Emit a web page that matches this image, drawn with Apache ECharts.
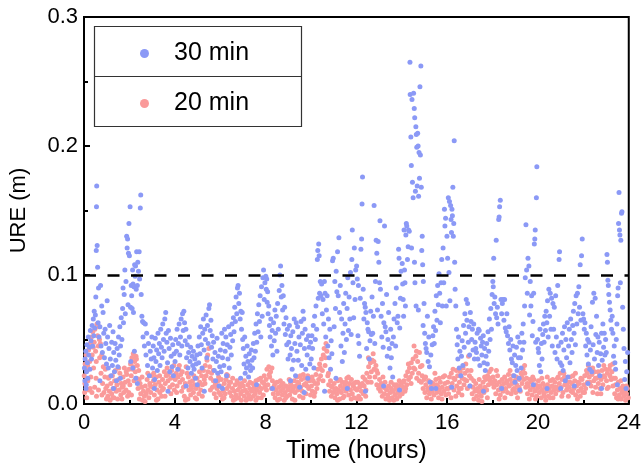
<!DOCTYPE html>
<html>
<head>
<meta charset="utf-8">
<script src="https://cdn.jsdelivr.net/npm/echarts@6/dist/echarts.min.js"></script>
<style>
  html, body { margin: 0; padding: 0; background: #fff; }
  #chart { width: 644px; height: 469px; }
</style>
</head>
<body>
<div id="chart"></div>
<script>
// User range error samples over one day: [time (hours), URE (m)]
const ure30min = [
  [0.02,0.028],[0.04,0.018],[0.05,0.035],[0.08,0.041],[0.09,0.012],[0.11,0.025],[0.13,0.046],[0.15,0.032],[0.17,0.02],[0.19,0.052],[0.21,0.038],[0.24,0.044],[0.26,0.027],[0.28,0.057],[0.31,0.049],[0.33,0.035],[0.36,0.061],[0.38,0.045],[0.41,0.066],[0.43,0.053],[0.45,0.072],[0.47,0.059],[0.5,0.069],[0.52,0.083],[0.54,0.119],[0.55,0.153],[0.56,0.169],[0.58,0.123],[0.6,0.106],[0.62,0.063],[0.64,0.09],[0.66,0.052],[0.7,0.06],[0.73,0.092],[0.75,0.045],[0.78,0.076],[0.81,0.04],[0.84,0.071],[0.87,0.055],[0.9,0.036],[0.93,0.058],[0.96,0.047],[0.99,0.031],
  [1.02,0.08],[1.04,0.052],[1.07,0.028],[1.1,0.043],[1.13,0.061],[1.16,0.035],[1.19,0.022],[1.22,0.048],[1.25,0.03],[1.28,0.056],[1.31,0.04],[1.34,0.025],[1.37,0.047],[1.4,0.034],[1.43,0.018],[1.46,0.043],[1.49,0.029],[1.52,0.052],[1.55,0.038],[1.58,0.06],[1.61,0.045],[1.64,0.067],[1.67,0.05],[1.7,0.074],[1.72,0.09],[1.74,0.063],[1.77,0.085],[1.8,0.104],[1.82,0.07],[1.85,0.095],[1.88,0.13],[1.9,0.121],[1.92,0.128],[1.94,0.077],[1.96,0.117],[1.98,0.14],
  [2.0,0.115],[2.03,0.153],[2.05,0.075],[2.06,0.033],[2.08,0.092],[2.1,0.084],[2.12,0.074],[2.14,0.104],[2.15,0.028],[2.16,0.093],[2.18,0.071],[2.2,0.091],[2.22,0.041],[2.23,0.108],[2.25,0.099],[2.27,0.107],[2.28,0.02],[2.3,0.089],[2.32,0.118],[2.35,0.092],[2.37,0.11],[2.4,0.103],[2.43,0.118],[2.45,0.097],[2.48,0.152],[2.5,0.162],[2.52,0.085],[2.55,0.068],[2.58,0.064],[2.6,0.052],[2.63,0.063],[2.66,0.045],[2.7,0.062],[2.73,0.038],[2.76,0.055],[2.8,0.03],[2.84,0.047],[2.88,0.022],[2.92,0.041],[2.96,0.035],[2.99,0.052],
  [3.02,0.028],[3.05,0.045],[3.08,0.036],[3.11,0.019],[3.14,0.051],[3.17,0.033],[3.2,0.042],[3.23,0.026],[3.26,0.055],[3.29,0.039],[3.32,0.047],[3.35,0.03],[3.38,0.058],[3.41,0.044],[3.44,0.036],[3.47,0.062],[3.5,0.05],[3.53,0.041],[3.56,0.066],[3.6,0.071],[3.62,0.055],[3.65,0.048],[3.68,0.032],[3.72,0.057],[3.75,0.043],[3.78,0.025],[3.81,0.051],[3.84,0.037],[3.88,0.029],[3.91,0.046],[3.94,0.022],[3.97,0.039],
  [4.01,0.033],[4.04,0.05],[4.07,0.041],[4.1,0.058],[4.13,0.027],[4.16,0.047],[4.19,0.062],[4.22,0.038],[4.25,0.052],[4.28,0.066],[4.31,0.045],[4.34,0.07],[4.37,0.057],[4.4,0.072],[4.43,0.063],[4.46,0.049],[4.49,0.058],[4.52,0.036],[4.55,0.046],[4.58,0.028],[4.61,0.04],[4.64,0.052],[4.67,0.033],[4.7,0.044],[4.73,0.024],[4.76,0.037],[4.79,0.03],[4.82,0.041],[4.85,0.027],[4.88,0.035],[4.91,0.02],[4.94,0.031],[4.97,0.038],[4.99,0.015],
  [5.02,0.045],[5.05,0.032],[5.08,0.052],[5.11,0.039],[5.14,0.06],[5.17,0.046],[5.2,0.028],[5.23,0.055],[5.26,0.066],[5.29,0.042],[5.32,0.058],[5.35,0.05],[5.38,0.069],[5.41,0.036],[5.44,0.061],[5.47,0.047],[5.5,0.074],[5.53,0.077],[5.56,0.057],[5.59,0.065],[5.62,0.044],[5.65,0.053],[5.68,0.035],[5.71,0.048],[5.74,0.026],[5.77,0.04],[5.8,0.018],[5.83,0.033],[5.86,0.051],[5.89,0.024],[5.92,0.037],[5.95,0.014],[5.98,0.029],
  [6.01,0.042],[6.04,0.025],[6.07,0.055],[6.1,0.036],[6.13,0.047],[6.16,0.03],[6.19,0.058],[6.22,0.041],[6.25,0.052],[6.28,0.022],[6.31,0.046],[6.34,0.035],[6.37,0.06],[6.4,0.028],[6.43,0.044],[6.46,0.054],[6.49,0.038],[6.52,0.062],[6.55,0.049],[6.58,0.067],[6.61,0.056],[6.64,0.075],[6.67,0.064],[6.7,0.083],[6.73,0.07],[6.76,0.09],[6.79,0.092],[6.82,0.078],[6.85,0.086],[6.88,0.066],[6.91,0.072],[6.94,0.058],[6.97,0.071],[6.99,0.05],
  [7.02,0.043],[7.05,0.031],[7.08,0.052],[7.1,0.024],[7.13,0.037],[7.16,0.028],[7.19,0.045],[7.22,0.033],[7.25,0.021],[7.28,0.039],[7.31,0.03],[7.34,0.026],[7.37,0.042],[7.4,0.034],[7.43,0.028],[7.46,0.047],[7.49,0.036],[7.52,0.055],[7.55,0.041],[7.58,0.062],[7.61,0.048],[7.64,0.07],[7.67,0.056],[7.7,0.077],[7.73,0.064],[7.76,0.084],[7.79,0.052],[7.82,0.091],[7.85,0.068],[7.88,0.098],[7.91,0.104],[7.94,0.081],[7.97,0.094],
  [8.01,0.099],[8.03,0.089],[8.05,0.097],[8.07,0.079],[8.09,0.087],[8.11,0.07],[8.14,0.076],[8.17,0.061],[8.2,0.052],[8.23,0.066],[8.26,0.045],[8.29,0.057],[8.32,0.038],[8.35,0.063],[8.38,0.049],[8.41,0.073],[8.44,0.055],[8.47,0.068],[8.5,0.041],[8.53,0.078],[8.56,0.058],[8.6,0.088],[8.63,0.1],[8.66,0.107],[8.69,0.083],[8.72,0.092],[8.75,0.073],[8.78,0.084],[8.81,0.062],[8.84,0.075],[8.87,0.054],[8.9,0.067],[8.93,0.046],[8.96,0.058],[8.99,0.035],
  [9.02,0.048],[9.05,0.061],[9.08,0.038],[9.11,0.053],[9.14,0.043],[9.17,0.027],[9.2,0.056],[9.23,0.034],[9.26,0.066],[9.29,0.047],[9.32,0.022],[9.35,0.063],[9.38,0.041],[9.41,0.06],[9.44,0.034],[9.47,0.052],[9.5,0.013],[9.53,0.046],[9.56,0.064],[9.59,0.03],[9.62,0.055],[9.65,0.072],[9.68,0.066],[9.71,0.043],[9.74,0.058],[9.77,0.027],[9.8,0.05],[9.83,0.038],[9.86,0.02],[9.89,0.053],[9.92,0.044],[9.95,0.031],[9.98,0.048],
  [10.01,0.035],[10.04,0.053],[10.07,0.043],[10.1,0.061],[10.13,0.028],[10.16,0.068],[10.19,0.05],[10.22,0.076],[10.25,0.058],[10.28,0.112],[10.3,0.119],[10.32,0.082],[10.34,0.124],[10.36,0.115],[10.38,0.086],[10.41,0.095],[10.44,0.084],[10.47,0.093],[10.5,0.07],[10.53,0.081],[10.56,0.062],[10.59,0.095],[10.62,0.086],[10.65,0.052],[10.68,0.073],[10.71,0.084],[10.74,0.045],[10.77,0.066],[10.8,0.036],[10.83,0.058],[10.86,0.027],[10.89,0.049],[10.92,0.039],[10.95,0.111],[10.98,0.113],
  [11.02,0.06],[11.05,0.095],[11.08,0.074],[11.11,0.103],[11.14,0.087],[11.17,0.118],[11.2,0.084],[11.23,0.129],[11.26,0.071],[11.29,0.092],[11.32,0.045],[11.35,0.066],[11.38,0.033],[11.41,0.055],[11.44,0.078],[11.47,0.04],[11.5,0.062],[11.53,0.086],[11.56,0.05],[11.59,0.074],[11.62,0.098],[11.65,0.057],[11.68,0.083],[11.71,0.066],[11.74,0.102],[11.77,0.054],[11.8,0.112],[11.82,0.135],[11.85,0.094],[11.88,0.067],[11.91,0.121],[11.94,0.081],[11.97,0.104],
  [12.01,0.107],[12.04,0.097],[12.07,0.053],[12.09,0.092],[12.11,0.047],[12.14,0.037],[12.17,0.082],[12.2,0.12],[12.23,0.128],[12.25,0.155],[12.27,0.176],[12.3,0.089],[12.33,0.066],[12.36,0.078],[12.39,0.075],[12.42,0.071],[12.45,0.043],[12.48,0.063],[12.51,0.058],[12.54,0.056],[12.57,0.035],[12.6,0.049],[12.63,0.072],[12.66,0.054],[12.69,0.083],[12.72,0.055],[12.75,0.068],[12.78,0.154],[12.81,0.047],[12.84,0.095],[12.87,0.127],[12.9,0.117],[12.93,0.073],[12.96,0.126],[12.99,0.11],
  [13.02,0.094],[13.04,0.142],[13.06,0.089],[13.09,0.068],[13.12,0.052],[13.15,0.078],[13.18,0.044],[13.21,0.063],[13.24,0.138],[13.27,0.06],[13.3,0.056],[13.33,0.085],[13.36,0.037],[13.39,0.05],[13.42,0.071],[13.45,0.043],[13.48,0.028],[13.51,0.058],[13.54,0.036],[13.57,0.047],[13.6,0.021],[13.63,0.052],[13.66,0.066],[13.7,0.078],[13.73,0.045],[13.76,0.09],[13.8,0.063],[13.83,0.068],[13.86,0.12],[13.88,0.113],[13.91,0.059],[13.94,0.082],[13.97,0.103],
  [14.02,0.109],[14.04,0.093],[14.06,0.081],[14.08,0.068],[14.1,0.135],[14.12,0.104],[14.14,0.094],[14.16,0.076],[14.18,0.131],[14.2,0.14],[14.22,0.138],[14.25,0.112],[14.28,0.122],[14.3,0.135],[14.33,0.134],[14.36,0.265],[14.37,0.24],[14.4,0.207],[14.42,0.185],[14.43,0.121],[14.45,0.236],[14.47,0.172],[14.5,0.16],[14.52,0.241],[14.55,0.229],[14.56,0.11],[14.57,0.222],[14.58,0.094],[14.6,0.165],[14.62,0.215],[14.63,0.076],[14.64,0.209],[14.66,0.199],[14.68,0.169],[14.7,0.21],[14.72,0.2],[14.73,0.073],[14.74,0.161],[14.76,0.195],[14.78,0.175],[14.8,0.246],[14.82,0.193],[14.84,0.262],[14.86,0.168],[14.88,0.119],[14.9,0.13],[14.92,0.108],[14.94,0.061],[14.95,0.095],[14.98,0.078],
  [15.01,0.055],[15.04,0.047],[15.07,0.043],[15.1,0.04],[15.13,0.068],[15.16,0.033],[15.19,0.052],[15.22,0.029],[15.25,0.017],[15.28,0.038],[15.31,0.012],[15.34,0.046],[15.37,0.053],[15.4,0.06],[15.43,0.047],[15.46,0.072],[15.49,0.057],[15.52,0.084],[15.55,0.065],[15.58,0.092],[15.61,0.077],[15.64,0.101],[15.67,0.086],[15.7,0.063],[15.73,0.094],[15.76,0.112],[15.79,0.076],[15.82,0.121],[15.85,0.094],[15.88,0.151],[15.9,0.138],[15.93,0.144],[15.96,0.076],[15.99,0.13],
  [16.02,0.113],[16.05,0.16],[16.08,0.102],[16.1,0.157],[16.12,0.08],[16.15,0.154],[16.17,0.143],[16.19,0.133],[16.21,0.151],[16.23,0.146],[16.25,0.168],[16.27,0.13],[16.29,0.14],[16.31,0.204],[16.33,0.11],[16.35,0.089],[16.38,0.076],[16.41,0.058],[16.44,0.046],[16.47,0.035],[16.5,0.052],[16.53,0.028],[16.56,0.041],[16.6,0.022],[16.63,0.037],[16.66,0.049],[16.69,0.03],[16.72,0.061],[16.75,0.044],[16.78,0.07],[16.81,0.055],[16.84,0.081],[16.87,0.065],[16.9,0.078],[16.93,0.048],[16.96,0.06],[16.99,0.038],
  [17.02,0.071],[17.05,0.064],[17.08,0.05],[17.11,0.058],[17.14,0.042],[17.17,0.062],[17.2,0.035],[17.23,0.048],[17.26,0.043],[17.29,0.04],[17.32,0.055],[17.35,0.035],[17.38,0.058],[17.41,0.057],[17.44,0.03],[17.47,0.051],[17.5,0.045],[17.53,0.038],[17.56,0.048],[17.59,0.053],[17.62,0.032],[17.65,0.043],[17.68,0.026],[17.71,0.037],[17.74,0.047],[17.77,0.031],[17.8,0.056],[17.83,0.041],[17.86,0.066],[17.89,0.05],[17.92,0.074],[17.95,0.058],[17.98,0.085],
  [18.01,0.095],[18.03,0.091],[18.05,0.113],[18.07,0.078],[18.1,0.083],[18.13,0.07],[18.16,0.127],[18.18,0.067],[18.21,0.075],[18.24,0.062],[18.27,0.143],[18.29,0.145],[18.31,0.153],[18.34,0.158],[18.37,0.081],[18.4,0.07],[18.43,0.078],[18.46,0.081],[18.5,0.065],[18.53,0.081],[18.56,0.059],[18.6,0.056],[18.63,0.07],[18.66,0.053],[18.7,0.047],[18.73,0.06],[18.76,0.042],[18.8,0.05],[18.83,0.035],[18.87,0.032],[18.9,0.045],[18.94,0.022],[18.97,0.038],[18.99,0.017],
  [19.02,0.03],[19.05,0.044],[19.08,0.026],[19.11,0.052],[19.14,0.036],[19.17,0.02],[19.2,0.048],[19.23,0.036],[19.26,0.028],[19.29,0.055],[19.32,0.042],[19.35,0.062],[19.38,0.048],[19.41,0.076],[19.44,0.098],[19.47,0.139],[19.5,0.104],[19.53,0.086],[19.56,0.113],[19.6,0.107],[19.63,0.069],[19.66,0.095],[19.69,0.076],[19.72,0.084],[19.75,0.053],[19.78,0.064],[19.81,0.086],[19.84,0.124],[19.86,0.128],[19.88,0.135],[19.9,0.048],[19.93,0.16],[19.95,0.184],[19.98,0.05],
  [20.01,0.043],[20.03,0.04],[20.06,0.03],[20.09,0.058],[20.12,0.025],[20.15,0.047],[20.18,0.035],[20.21,0.054],[20.24,0.062],[20.27,0.048],[20.3,0.068],[20.33,0.057],[20.36,0.072],[20.39,0.063],[20.42,0.08],[20.45,0.052],[20.48,0.089],[20.51,0.068],[20.54,0.086],[20.57,0.058],[20.6,0.082],[20.63,0.045],[20.66,0.078],[20.69,0.058],[20.72,0.075],[20.75,0.04],[20.78,0.084],[20.81,0.052],[20.84,0.035],[20.87,0.092],[20.9,0.045],[20.93,0.112],[20.95,0.118],[20.98,0.032],
  [21.02,0.048],[21.05,0.03],[21.08,0.055],[21.11,0.026],[21.14,0.042],[21.17,0.06],[21.2,0.018],[21.23,0.05],[21.26,0.036],[21.29,0.063],[21.32,0.021],[21.35,0.045],[21.38,0.058],[21.41,0.032],[21.44,0.066],[21.47,0.05],[21.5,0.04],[21.53,0.061],[21.56,0.072],[21.59,0.055],[21.62,0.078],[21.65,0.046],[21.68,0.084],[21.71,0.062],[21.74,0.086],[21.77,0.07],[21.8,0.091],[21.83,0.075],[21.86,0.108],[21.89,0.065],[21.92,0.115],[21.95,0.128],[21.98,0.07],
  [22.01,0.066],[22.04,0.058],[22.07,0.063],[22.1,0.045],[22.13,0.055],[22.16,0.038],[22.19,0.05],[22.22,0.031],[22.25,0.048],[22.28,0.027],[22.31,0.042],[22.34,0.06],[22.37,0.025],[22.4,0.079],[22.43,0.046],[22.46,0.086],[22.49,0.035],[22.52,0.082],[22.55,0.054],[22.58,0.068],[22.61,0.04],[22.64,0.052],[22.67,0.03],[22.7,0.048],[22.73,0.022],[22.76,0.039],[22.8,0.055],[22.83,0.034],[22.86,0.062],[22.89,0.044],[22.92,0.055],[22.95,0.038],[22.98,0.05],
  [23.01,0.04],[23.04,0.116],[23.06,0.11],[23.08,0.096],[23.1,0.092],[23.12,0.085],[23.15,0.079],[23.18,0.073],[23.21,0.065],[23.24,0.058],[23.27,0.068],[23.3,0.055],[23.33,0.037],[23.36,0.045],[23.39,0.032],[23.42,0.027],[23.45,0.05],[23.48,0.062],[23.51,0.084],[23.53,0.09],[23.55,0.14],[23.57,0.164],[23.59,0.135],[23.61,0.131],[23.63,0.094],[23.65,0.127],[23.68,0.148],[23.7,0.149],[23.73,0.075],[23.76,0.058],[23.79,0.043],[23.82,0.019],[23.85,0.033],[23.88,0.012],[23.91,0.025],[23.95,0.04],
  [0.1,0.015],[0.7,0.018],[1.3,0.012],[1.6,0.02],[2.35,0.016],[3.1,0.012],[3.7,0.01],[4.5,0.014],[5.3,0.01],[6.1,0.012],[6.9,0.02],[7.6,0.015],[8.3,0.012],[9.1,0.018],[9.7,0.009],[10.6,0.01],[11.1,0.02],[11.6,0.012],[12.4,0.01],[13.2,0.014],[13.9,0.011],[15.5,0.012],[16.2,0.013],[17.0,0.014],[17.6,0.01],[18.4,0.012],[19.2,0.011],[19.8,0.015],[20.4,0.012],[21.0,0.012],[21.6,0.014],[22.2,0.016],[22.8,0.012],[23.5,0.015]
];

const ure20min = [
  [0.01,0.022],[0.03,0.009],[0.05,0.031],[0.07,0.015],[0.09,0.038],[0.12,0.005],[0.14,0.026],[0.17,0.018],[0.2,0.042],[0.22,0.011],[0.25,0.033],[0.28,0.047],[0.3,0.021],[0.33,0.052],[0.35,0.009],[0.36,0.038],[0.39,0.056],[0.42,0.028],[0.45,0.048],[0.47,0.013],[0.48,0.058],[0.51,0.041],[0.54,0.033],[0.55,0.006],[0.57,0.062],[0.6,0.053],[0.63,0.045],[0.64,0.011],[0.66,0.06],[0.69,0.036],[0.72,0.047],[0.75,0.024],[0.78,0.038],[0.82,0.016],[0.85,0.029],[0.88,0.009],[0.92,0.021],[0.96,0.012],[0.99,0.004],
  [1.02,0.014],[1.05,0.006],[1.08,0.02],[1.12,0.01],[1.15,0.003],[1.18,0.016],[1.22,0.008],[1.25,0.022],[1.28,0.012],[1.32,0.005],[1.35,0.018],[1.38,0.026],[1.42,0.01],[1.45,0.015],[1.48,0.004],[1.52,0.019],[1.55,0.011],[1.58,0.024],[1.62,0.007],[1.65,0.016],[1.68,0.013],[1.72,0.021],[1.75,0.009],[1.78,0.028],[1.82,0.017],[1.85,0.011],[1.88,0.023],[1.92,0.006],[1.95,0.018],[1.98,0.027],
  [2.02,0.015],[2.05,0.031],[2.08,0.022],[2.11,0.036],[2.14,0.027],[2.17,0.039],[2.2,0.018],[2.23,0.033],[2.26,0.025],[2.29,0.037],[2.32,0.02],[2.35,0.03],[2.38,0.012],[2.41,0.026],[2.44,0.004],[2.47,0.016],[2.5,0.008],[2.54,0.013],[2.58,0.003],[2.62,0.01],[2.66,0.006],[2.7,0.014],[2.74,0.008],[2.78,0.019],[2.82,0.011],[2.86,0.005],[2.9,0.016],[2.94,0.009],[2.98,0.022],
  [3.02,0.013],[3.06,0.018],[3.1,0.007],[3.14,0.015],[3.18,0.021],[3.22,0.011],[3.26,0.004],[3.3,0.017],[3.34,0.009],[3.38,0.014],[3.42,0.006],[3.46,0.019],[3.5,0.012],[3.54,0.025],[3.58,0.016],[3.62,0.022],[3.66,0.028],[3.7,0.018],[3.74,0.024],[3.78,0.013],[3.82,0.02],[3.86,0.026],[3.9,0.015],[3.94,0.022],[3.98,0.011],
  [4.02,0.019],[4.06,0.024],[4.1,0.014],[4.14,0.021],[4.18,0.027],[4.22,0.017],[4.26,0.023],[4.3,0.01],[4.34,0.019],[4.38,0.013],[4.42,0.006],[4.46,0.016],[4.5,0.029],[4.54,0.024],[4.58,0.004],[4.62,0.011],[4.66,0.017],[4.7,0.007],[4.74,0.012],[4.78,0.018],[4.82,0.009],[4.86,0.015],[4.9,0.005],[4.94,0.012],[4.98,0.02],
  [5.02,0.014],[5.06,0.008],[5.1,0.017],[5.14,0.011],[5.18,0.022],[5.22,0.015],[5.26,0.026],[5.3,0.019],[5.34,0.03],[5.38,0.022],[5.42,0.034],[5.46,0.025],[5.5,0.043],[5.54,0.029],[5.58,0.02],[5.62,0.024],[5.66,0.013],[5.7,0.018],[5.74,0.008],[5.78,0.015],[5.82,0.005],[5.86,0.012],[5.9,0.018],[5.94,0.009],[5.98,0.014],
  [6.02,0.007],[6.06,0.013],[6.1,0.004],[6.14,0.01],[6.18,0.016],[6.22,0.008],[6.26,0.019],[6.3,0.012],[6.34,0.022],[6.38,0.014],[6.42,0.009],[6.46,0.017],[6.5,0.006],[6.54,0.012],[6.58,0.003],[6.62,0.01],[6.66,0.015],[6.7,0.007],[6.74,0.018],[6.78,0.011],[6.82,0.005],[6.86,0.013],[6.9,0.008],[6.94,0.016],[6.98,0.01],
  [7.02,0.014],[7.06,0.006],[7.1,0.011],[7.14,0.003],[7.18,0.009],[7.22,0.015],[7.26,0.007],[7.3,0.012],[7.34,0.004],[7.38,0.01],[7.42,0.016],[7.46,0.006],[7.5,0.013],[7.54,0.008],[7.58,0.018],[7.62,0.011],[7.66,0.005],[7.7,0.014],[7.74,0.009],[7.78,0.02],[7.82,0.012],[7.86,0.017],[7.9,0.007],[7.94,0.022],[7.98,0.013],
  [8.02,0.019],[8.06,0.027],[8.1,0.015],[8.14,0.029],[8.18,0.021],[8.22,0.025],[8.26,0.012],[8.3,0.018],[8.34,0.008],[8.38,0.014],[8.42,0.005],[8.46,0.011],[8.5,0.017],[8.54,0.008],[8.58,0.013],[8.62,0.004],[8.66,0.01],[8.7,0.015],[8.74,0.007],[8.78,0.012],[8.82,0.003],[8.86,0.009],[8.9,0.014],[8.94,0.006],[8.98,0.011],
  [9.02,0.013],[9.06,0.007],[9.1,0.016],[9.14,0.01],[9.18,0.004],[9.22,0.012],[9.26,0.018],[9.3,0.009],[9.34,0.014],[9.38,0.021],[9.42,0.011],[9.46,0.016],[9.5,0.006],[9.54,0.013],[9.58,0.019],[9.62,0.01],[9.66,0.023],[9.7,0.015],[9.74,0.02],[9.78,0.008],[9.82,0.014],[9.86,0.022],[9.9,0.012],[9.94,0.018],[9.98,0.007],
  [10.02,0.014],[10.06,0.01],[10.1,0.018],[10.14,0.006],[10.18,0.016],[10.22,0.023],[10.26,0.012],[10.3,0.027],[10.34,0.019],[10.38,0.031],[10.42,0.022],[10.46,0.035],[10.5,0.026],[10.54,0.038],[10.58,0.043],[10.62,0.03],[10.66,0.047],[10.7,0.041],[10.74,0.022],[10.78,0.015],[10.82,0.01],[10.86,0.018],[10.9,0.006],[10.94,0.013],[10.98,0.009],
  [11.02,0.016],[11.06,0.005],[11.1,0.012],[11.14,0.008],[11.18,0.018],[11.22,0.011],[11.26,0.004],[11.3,0.014],[11.34,0.009],[11.38,0.017],[11.42,0.012],[11.46,0.006],[11.5,0.015],[11.54,0.01],[11.58,0.02],[11.62,0.013],[11.66,0.007],[11.7,0.016],[11.74,0.011],[11.78,0.019],[11.82,0.008],[11.86,0.014],[11.9,0.005],[11.94,0.012],[11.98,0.017],
  [12.02,0.011],[12.06,0.017],[12.1,0.006],[12.14,0.013],[12.18,0.004],[12.22,0.01],[12.26,0.016],[12.3,0.008],[12.34,0.014],[12.38,0.019],[12.42,0.011],[12.46,0.024],[12.5,0.017],[12.54,0.029],[12.58,0.021],[12.62,0.032],[12.66,0.025],[12.7,0.034],[12.74,0.039],[12.78,0.027],[12.82,0.021],[12.86,0.03],[12.9,0.015],[12.94,0.024],[12.98,0.012],
  [13.02,0.019],[13.06,0.01],[13.1,0.016],[13.14,0.006],[13.18,0.013],[13.22,0.008],[13.26,0.017],[13.3,0.004],[13.34,0.011],[13.38,0.007],[13.42,0.014],[13.46,0.003],[13.5,0.009],[13.54,0.012],[13.58,0.005],[13.62,0.01],[13.66,0.015],[13.7,0.007],[13.74,0.012],[13.78,0.004],[13.82,0.009],[13.86,0.014],[13.9,0.006],[13.94,0.011],[13.98,0.016],
  [14.02,0.008],[14.06,0.013],[14.1,0.018],[14.14,0.01],[14.18,0.022],[14.22,0.015],[14.26,0.025],[14.3,0.019],[14.34,0.028],[14.38,0.021],[14.42,0.032],[14.46,0.024],[14.5,0.035],[14.54,0.045],[14.58,0.027],[14.62,0.037],[14.66,0.02],[14.7,0.033],[14.74,0.024],[14.78,0.04],[14.82,0.029],[14.86,0.017],[14.9,0.022],[14.94,0.012],[14.98,0.019],
  [15.02,0.009],[15.06,0.015],[15.1,0.005],[15.14,0.012],[15.18,0.018],[15.22,0.008],[15.26,0.013],[15.3,0.004],[15.34,0.01],[15.38,0.016],[15.42,0.007],[15.46,0.024],[15.5,0.019],[15.54,0.009],[15.58,0.014],[15.62,0.005],[15.66,0.011],[15.7,0.017],[15.74,0.008],[15.78,0.013],[15.82,0.021],[15.86,0.01],[15.9,0.016],[15.94,0.007],[15.98,0.012],
  [16.02,0.017],[16.06,0.008],[16.1,0.021],[16.14,0.013],[16.18,0.024],[16.22,0.016],[16.26,0.027],[16.3,0.011],[16.34,0.019],[16.38,0.006],[16.42,0.014],[16.46,0.022],[16.5,0.009],[16.54,0.017],[16.58,0.025],[16.62,0.012],[16.66,0.02],[16.7,0.028],[16.74,0.015],[16.78,0.024],[16.82,0.031],[16.86,0.018],[16.9,0.026],[16.94,0.037],[16.98,0.022],
  [17.02,0.014],[17.06,0.02],[17.1,0.008],[17.14,0.013],[17.18,0.004],[17.22,0.01],[17.26,0.016],[17.3,0.006],[17.34,0.012],[17.38,0.003],[17.42,0.009],[17.46,0.014],[17.5,0.006],[17.54,0.011],[17.58,0.017],[17.62,0.009],[17.66,0.013],[17.7,0.019],[17.74,0.011],[17.78,0.022],[17.82,0.015],[17.86,0.025],[17.9,0.018],[17.94,0.027],[17.98,0.016],
  [18.02,0.021],[18.06,0.013],[18.1,0.018],[18.14,0.008],[18.18,0.015],[18.22,0.022],[18.26,0.011],[18.3,0.017],[18.34,0.007],[18.38,0.013],[18.42,0.019],[18.46,0.01],[18.5,0.016],[18.54,0.005],[18.58,0.012],[18.62,0.018],[18.66,0.009],[18.7,0.023],[18.74,0.014],[18.78,0.019],[18.82,0.008],[18.86,0.016],[18.9,0.022],[18.94,0.012],[18.98,0.018],
  [19.02,0.009],[19.06,0.015],[19.1,0.005],[19.14,0.012],[19.18,0.019],[19.22,0.01],[19.26,0.024],[19.3,0.016],[19.34,0.027],[19.38,0.019],[19.42,0.024],[19.46,0.013],[19.5,0.02],[19.54,0.008],[19.58,0.014],[19.62,0.004],[19.66,0.011],[19.7,0.017],[19.74,0.007],[19.78,0.013],[19.82,0.019],[19.86,0.01],[19.9,0.015],[19.94,0.006],[19.98,0.012],
  [20.02,0.018],[20.06,0.009],[20.1,0.014],[20.14,0.005],[20.18,0.011],[20.22,0.016],[20.26,0.008],[20.3,0.013],[20.34,0.003],[20.38,0.01],[20.42,0.015],[20.46,0.006],[20.5,0.012],[20.54,0.018],[20.58,0.009],[20.62,0.014],[20.66,0.005],[20.7,0.011],[20.74,0.017],[20.78,0.008],[20.82,0.013],[20.86,0.02],[20.9,0.011],[20.94,0.016],[20.98,0.024],
  [21.02,0.013],[21.06,0.019],[21.1,0.009],[21.14,0.024],[21.18,0.015],[21.22,0.02],[21.26,0.011],[21.3,0.017],[21.34,0.006],[21.38,0.013],[21.42,0.021],[21.46,0.01],[21.5,0.016],[21.54,0.022],[21.58,0.012],[21.62,0.018],[21.66,0.007],[21.7,0.014],[21.74,0.004],[21.78,0.01],[21.82,0.016],[21.86,0.006],[21.9,0.012],[21.94,0.019],[21.98,0.009],
  [22.02,0.015],[22.06,0.022],[22.1,0.012],[22.14,0.026],[22.18,0.017],[22.22,0.03],[22.26,0.021],[22.3,0.027],[22.34,0.014],[22.38,0.023],[22.42,0.009],[22.46,0.018],[22.5,0.025],[22.54,0.013],[22.58,0.02],[22.62,0.008],[22.66,0.016],[22.7,0.022],[22.74,0.012],[22.78,0.019],[22.82,0.026],[22.86,0.015],[22.9,0.03],[22.94,0.021],[22.98,0.027],
  [23.02,0.018],[23.06,0.024],[23.1,0.013],[23.14,0.027],[23.18,0.03],[23.22,0.019],[23.26,0.025],[23.3,0.014],[23.34,0.02],[23.38,0.008],[23.42,0.015],[23.46,0.005],[23.5,0.011],[23.54,0.017],[23.58,0.007],[23.62,0.012],[23.66,0.004],[23.7,0.009],[23.74,0.014],[23.78,0.006],[23.82,0.01],[23.86,0.003],[23.9,0.008],[23.94,0.012],[23.98,0.005],
  [0.04,0.016],[0.16,0.03],[0.27,0.012],[0.41,0.044],[0.53,0.02],[0.68,0.05],[0.79,0.007],[0.94,0.027],
  [1.11,0.021],[1.27,0.005],[1.36,0.012],[1.53,0.028],[1.67,0.004],[1.73,0.014],[1.86,0.025],[1.97,0.009],
  [2.09,0.007],[2.19,0.029],[2.31,0.035],[2.43,0.019],[2.56,0.021],[2.69,0.002],[2.81,0.024],[2.93,0.014],
  [3.07,0.024],[3.19,0.003],[3.33,0.022],[3.45,0.011],[3.57,0.006],[3.69,0.023],[3.83,0.008],[3.96,0.03],
  [4.08,0.009],[4.2,0.03],[4.33,0.025],[4.47,0.003],[4.6,0.021],[4.71,0.014],[4.84,0.022],[4.96,0.004],
  [5.09,0.025],[5.21,0.006],[5.33,0.016],[5.45,0.038],[5.57,0.011],[5.69,0.026],[5.81,0.016],[5.93,0.021],
  [6.05,0.019],[6.17,0.005],[6.29,0.023],[6.41,0.017],[6.55,0.02],[6.67,0.004],[6.8,0.016],[6.93,0.003],
  [7.07,0.018],[7.19,0.004],[7.31,0.017],[7.44,0.011],[7.57,0.003],[7.69,0.019],[7.81,0.005],[7.93,0.016],
  [8.04,0.011],[8.16,0.023],[8.28,0.028],[8.41,0.016],[8.53,0.003],[8.65,0.018],[8.77,0.016],[8.89,0.005],
  [9.04,0.019],[9.16,0.014],[9.29,0.003],[9.41,0.017],[9.53,0.022],[9.65,0.005],[9.77,0.016],[9.89,0.019],
  [10.05,0.021],[10.17,0.009],[10.29,0.016],[10.41,0.028],[10.53,0.018],[10.65,0.036],[10.77,0.024],[10.89,0.014],
  [11.05,0.011],[11.17,0.003],[11.29,0.019],[11.41,0.005],[11.53,0.017],[11.65,0.021],[11.77,0.004],[11.89,0.016],
  [12.05,0.004],[12.17,0.015],[12.29,0.021],[12.41,0.006],[12.53,0.036],[12.65,0.017],[12.77,0.033],[12.89,0.026],
  [13.05,0.014],[13.17,0.021],[13.29,0.012],[13.41,0.005],[13.53,0.017],[13.65,0.003],[13.77,0.015],[13.89,0.018],
  [14.05,0.017],[14.17,0.012],[14.29,0.031],[14.41,0.016],[14.53,0.028],[14.65,0.041],[14.77,0.018],[14.89,0.03],
  [15.05,0.021],[15.17,0.011],[15.29,0.017],[15.41,0.013],[15.53,0.015],[15.65,0.02],[15.77,0.004],[15.89,0.022],
  [16.05,0.012],[16.17,0.005],[16.29,0.02],[16.41,0.026],[16.53,0.012],[16.65,0.007],[16.77,0.019],[16.89,0.012],
  [17.05,0.026],[17.17,0.018],[17.29,0.011],[17.41,0.019],[17.53,0.002],[17.65,0.021],[17.77,0.005],[17.89,0.02],
  [18.05,0.017],[18.17,0.026],[18.29,0.004],[18.41,0.014],[18.53,0.021],[18.65,0.016],[18.77,0.026],[18.89,0.011],
  [19.05,0.021],[19.17,0.013],[19.29,0.021],[19.41,0.03],[19.53,0.016],[19.65,0.019],[19.77,0.021],[19.89,0.004],
  [20.05,0.014],[20.17,0.02],[20.29,0.006],[20.41,0.021],[20.53,0.005],[20.65,0.019],[20.77,0.013],[20.89,0.021],
  [21.05,0.006],[21.17,0.021],[21.29,0.014],[21.41,0.017],[21.53,0.009],[21.65,0.024],[21.77,0.017],[21.89,0.02],
  [22.05,0.009],[22.17,0.024],[22.29,0.017],[22.41,0.028],[22.53,0.02],[22.65,0.025],[22.77,0.008],[22.89,0.022],
  [23.05,0.012],[23.17,0.022],[23.29,0.031],[23.41,0.02],[23.53,0.004],[23.65,0.018],[23.77,0.011],[23.89,0.014]
];

const seriesNames = ['30 min', '20 min'];
const seriesColors = ['#8b99f6', '#fa9a9a'];
const threshold = 0.1;

const FONT = '"Liberation Sans", Arial, sans-serif';
const chart = echarts.init(document.getElementById('chart'), null, { renderer: 'canvas' });

const legendBase = {
  orient: 'vertical',
  left: 135,
  icon: 'circle',
  itemWidth: 9,
  itemHeight: 9,
  selectedMode: false,
  textStyle: { fontFamily: FONT, fontSize: 25, color: '#000', padding: [0, 0, 0, 20] }
};

chart.setOption({
  animation: false,
  backgroundColor: '#fff',
  grid: {
    left: 82, right: 6, top: 17, bottom: 64,
    show: true, borderColor: '#000', borderWidth: 2
  },
  xAxis: {
    type: 'value', min: 0, max: 24, interval: 4,
    name: 'Time (hours)', nameLocation: 'middle', nameGap: 34,
    nameTextStyle: { fontFamily: FONT, fontSize: 25, color: '#000' },
    axisLine: { show: true, lineStyle: { color: '#000', width: 2 } },
    axisTick: { show: true, inside: true, length: 6, lineStyle: { color: '#000', width: 2 } },
    minorTick: { show: true, splitNumber: 2, length: 4, lineStyle: { color: '#000', width: 2 } },
    axisLabel: { fontFamily: FONT, fontSize: 22, color: '#000', margin: 8 },
    splitLine: { show: false }
  },
  yAxis: {
    type: 'value', min: 0, max: 0.3, interval: 0.1,
    name: 'URE (m)', nameLocation: 'middle', nameGap: 54, nameRotate: 90,
    nameTextStyle: { fontFamily: FONT, fontSize: 22, color: '#000' },
    axisLine: { show: true, lineStyle: { color: '#000', width: 2 } },
    axisTick: { show: true, inside: true, length: 6, lineStyle: { color: '#000', width: 2 } },
    minorTick: { show: true, splitNumber: 2, length: 4, lineStyle: { color: '#000', width: 2 } },
    axisLabel: { fontFamily: FONT, fontSize: 22, color: '#000', margin: 6,
      formatter: v => v.toFixed(1) },
    splitLine: { show: false }
  },
  legend: [
    Object.assign({}, legendBase, { data: [seriesNames[0]], top: 36 }),
    Object.assign({}, legendBase, { data: [seriesNames[1]], top: 86 })
  ],
  graphic: [
    { type: 'rect', z: 100, shape: { x: 94.5, y: 26.5, width: 207, height: 100 },
      style: { fill: null, stroke: '#333', lineWidth: 1.2 } },
    { type: 'line', z: 100, shape: { x1: 94.5, y1: 76.5, x2: 301.5, y2: 76.5 },
      style: { stroke: '#333', lineWidth: 1.2 } }
  ],
  series: [
    {
      name: seriesNames[1], type: 'scatter', data: ure20min,
      symbolSize: 5, itemStyle: { color: seriesColors[1], opacity: 1 }, z: 2
    },
    {
      name: seriesNames[0], type: 'scatter', data: ure30min,
      symbolSize: 5, itemStyle: { color: seriesColors[0], opacity: 1 }, z: 3,
      markLine: {
        silent: true, symbol: 'none', animation: false,
        label: { show: false },
        lineStyle: { color: '#000', width: 2.5, type: [12, 11.5] },
        data: [{ yAxis: threshold }]
      }
    }
  ]
});
</script>
</body>
</html>
